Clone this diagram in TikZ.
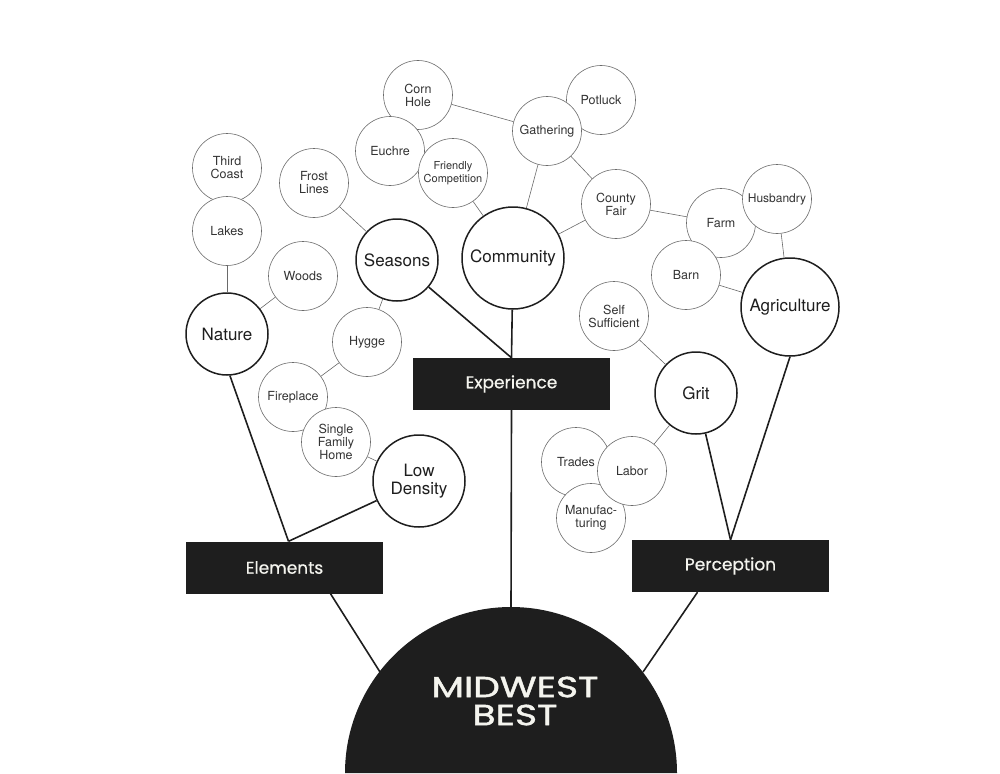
\documentclass[tikz,border=0pt]{standalone}
\usepackage{fontspec}
\setmainfont{TeX Gyre Heros}
\newfontfamily\tagfont{Poppins}[FakeBold=0.7]
\newfontfamily\domefont{Poppins}[FakeStretch=1.3, FakeBold=1.6]
\usetikzlibrary{positioning}

\definecolor{ink}{HTML}{1E1E1E}
\definecolor{rim}{HTML}{6A6A6A}
\definecolor{paper}{HTML}{F4F4EE}

\begin{document}
\begin{tikzpicture}[x=1pt, y=-1pt,
	leaf/.style={circle, draw=rim, line width=0.6pt, fill=white, minimum size=69pt, inner sep=0pt, align=center, text=black!80, font=\fontsize{12.5}{13}\selectfont},
	hub/.style={circle, draw=ink, line width=1.5pt, fill=white, inner sep=0pt, align=center, text=ink, font=\fontsize{17}{18}\selectfont},
	tag/.style={rectangle, fill=ink, minimum width=197pt, minimum height=52pt, text=paper, font=\tagfont\fontsize{17}{18}\selectfont},
	twig/.style={draw=rim, line width=0.6pt},
	branch/.style={draw=ink, line width=1.6pt}]
	\def\Rdome{166pt}

	\useasboundingbox (0,0) rectangle (1000,773);

	% dome
	\fill[ink]	(345,773) arc[start angle=180, end angle=0, radius=\Rdome] -- cycle;
	\coordinate (domeL) at (380,672);
	\coordinate (domeR) at (643,672);
	\coordinate (domeT) at (511,607);
	\node[text=paper, align=center, font=\domefont\fontsize{29}{28}\selectfont] (midwest) at (515,701) {MIDWEST\\BEST};

	% boxes
	\node[tag] (experience)	at (511.5,384) {Experience};
	\node[tag] (elements)	at (284.5,567.5) {Elements};
	\node[tag] (perception)	at (730.5,566) {Perception};

	% left: nature
	\node[leaf] (third)	at (227,168) {Third\\Coast};
	\node[leaf] (lakes)	at (227,231) {Lakes};
	\node[leaf] (woods)	at (303,276) {Woods};
	\node[hub, minimum size=82pt] (nature) at (227,334) {Nature};

	% seasons
	\node[leaf] (frost)	at (314,183) {Frost\\Lines};
	\node[hub, minimum size=82pt] (seasons) at (397,260) {Seasons};
	\node[leaf] (hygge)	at (367,342) {Hygge};
	\node[leaf] (fireplace)	at (293,397) {Fireplace};
	\node[leaf] (single)	at (336,442) {Single\\Family\\Home};
	\node[hub, minimum size=92pt] (lowd) at (419,481) {Low\\Density};

	% community
	\node[leaf] (corn)	at (418,95) {Corn\\Hole};
	\node[leaf] (euchre)	at (390,151) {Euchre};
	\node[leaf, font=\fontsize{11}{13}\selectfont] (friendly) at (453,173) {Friendly\\Competition};
	\node[leaf] (potluck)	at (601,100) {Potluck};
	\node[leaf] (gathering)	at (547,131) {Gathering};
	\node[leaf] (county)	at (616,204) {County\\Fair};
	\node[hub, minimum size=102pt] (community) at (513,258) {Community};

	% agriculture
	\node[leaf] (farm)	at (721,223) {Farm};
	\node[leaf, font=\fontsize{12}{13}\selectfont] (husbandry) at (777,199) {Husbandry};
	\node[leaf] (barn)	at (686,275) {Barn};
	\node[hub, minimum size=98pt] (agri) at (790,307) {Agriculture};

	% grit
	\node[leaf] (self)	at (614,316) {Self\\Sufficient};
	\node[hub, minimum size=82pt] (grit) at (696,393) {Grit};
	\node[leaf] (trades)	at (576,462) {Trades};
	\node[leaf] (manuf)	at (591,518) {Manufac-\\turing};
	\node[leaf] (labor)	at (632,471) {Labor};

	% thin links
	\draw[twig] (lakes) -- (nature);
	\draw[twig] (woods) -- (nature);
	\draw[twig] (frost) -- (seasons);
	\draw[twig] (seasons) -- (hygge);
	\draw[twig] (hygge) -- (fireplace);
	\draw[twig] (single) -- (lowd);
	\draw[twig] (corn) -- (gathering);
	\draw[twig] (friendly) -- (community);
	\draw[twig] (gathering) -- (community);
	\draw[twig] (gathering) -- (county);
	\draw[twig] (county) -- (community);
	\draw[twig] (county) -- (farm);
	\draw[twig] (husbandry) -- (agri);
	\draw[twig] (barn) -- (agri);
	\draw[twig] (self) -- (grit);
	\draw[twig] (grit) -- (labor);

	% thick branches
	\draw[branch] (nature.-86) -- ([xshift=4pt]elements.north);
	\draw[branch] (lowd) -- ([xshift=4pt]elements.north);
	\draw[branch] (seasons) -- (experience.north);
	\draw[branch] (community) -- (experience.north);
	\draw[branch] (experience.south) -- (domeT);
	\draw[branch] ([xshift=46pt]elements.south) -- (domeL);
	\draw[branch] ([xshift=-33pt]perception.south) -- (domeR);
	\draw[branch] (grit) -- (perception.north);
	\draw[branch] (agri.south) -- (perception.north);
\end{tikzpicture}
\end{document}
